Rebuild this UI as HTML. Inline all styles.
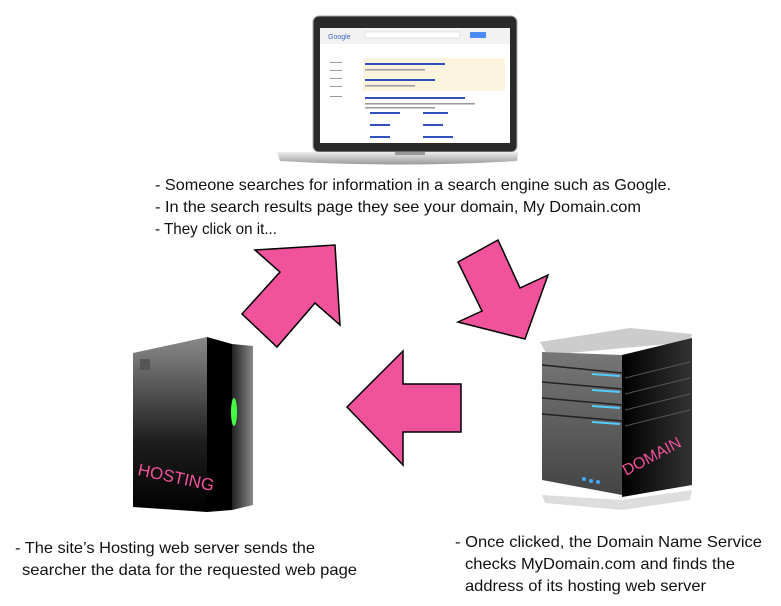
<!DOCTYPE html>
<html><head><meta charset="utf-8"><style>
html,body{margin:0;padding:0;background:#fff;}
svg{display:block}
text{font-family:"Liberation Sans",sans-serif;font-size:16px;fill:#111}
</style></head><body>
<svg width="781" height="606" viewBox="0 0 781 606" xmlns="http://www.w3.org/2000/svg">
<defs>
<linearGradient id="hb" x1="0" y1="0" x2="0" y2="1"><stop offset="0" stop-color="#8a8a8a"/><stop offset="0.6" stop-color="#1e1e1e"/><stop offset="1" stop-color="#000"/></linearGradient>
<linearGradient id="hs" x1="0" y1="0" x2="1" y2="0"><stop offset="0" stop-color="#222"/><stop offset="1" stop-color="#888"/></linearGradient>
<linearGradient id="df" x1="0" y1="0" x2="0" y2="1"><stop offset="0" stop-color="#777"/><stop offset="1" stop-color="#444"/></linearGradient>
<linearGradient id="ds" x1="0" y1="0" x2="1" y2="0"><stop offset="0" stop-color="#000"/><stop offset="1" stop-color="#333"/></linearGradient>
<linearGradient id="lb" x1="0" y1="0" x2="0" y2="1"><stop offset="0" stop-color="#eee"/><stop offset="1" stop-color="#999"/></linearGradient>
</defs>
<!-- laptop -->
<rect x="313" y="16" width="204" height="136" rx="6" fill="#2a2a2a" stroke="#aaa" stroke-width="1"/>
<rect x="320" y="28" width="190" height="115" fill="#fff"/>
<rect x="320" y="28" width="190" height="16" fill="#f2f2f2"/>
<text x="328" y="39" style="font-size:7px;fill:#3b6ad0">Google</text>
<rect x="365" y="32" width="95" height="6" fill="#fff" stroke="#ccc" stroke-width="0.5"/>
<rect x="470" y="32" width="16" height="6" fill="#4a8af4"/>
<rect x="363" y="58" width="142" height="33" fill="#fdf4df"/>
<g fill="#3050c0"><rect x="365" y="63" width="80" height="2"/><rect x="365" y="79" width="70" height="2"/><rect x="365" y="97" width="100" height="2"/><rect x="370" y="112" width="30" height="2"/><rect x="423" y="112" width="25" height="2"/><rect x="370" y="124" width="20" height="2"/><rect x="423" y="124" width="20" height="2"/><rect x="370" y="136" width="20" height="2"/><rect x="423" y="136" width="30" height="2"/></g>
<g fill="#999"><rect x="365" y="69" width="60" height="1.5"/><rect x="365" y="85" width="50" height="1.5"/><rect x="365" y="103" width="110" height="1.5"/><rect x="365" y="107" width="70" height="1.5"/><rect x="330" y="62" width="12" height="1"/><rect x="330" y="70" width="12" height="1"/><rect x="330" y="78" width="12" height="1"/><rect x="330" y="86" width="12" height="1"/><rect x="330" y="96" width="12" height="1"/></g>
<path d="M277 152 H518 L517 161 Q400 168 280 161 Z" fill="url(#lb)"/>
<rect x="395" y="152" width="30" height="3" fill="#999"/>
<!-- arrows -->
<g fill="#f0529c" stroke="#000" stroke-width="1.5" stroke-linejoin="miter">
<polygon points="255,250 335,245 340,325 315,303 277,347 242,314 280,272"/>
<polygon points="458,262 498,240 520,288 548,275 525,339 458,322 482,311"/>
<polygon points="347,407 403,351 403,384 461,384 461,432 403,432 403,465"/>
</g>
<!-- hosting server -->
<polygon points="133,353 207,337 207,512 133,507" fill="url(#hb)"/>
<polygon points="207,337 232,344 232,510 207,512" fill="#000"/>
<polygon points="232,344 253,346 253,505 232,510" fill="url(#hs)"/>
<rect x="140" y="359" width="10" height="11" fill="#555"/>
<ellipse cx="234" cy="412" rx="3" ry="14" fill="#4f4"/>
<text x="137" y="475" transform="rotate(12 137 475)" style="fill:#f0529c;font-size:17px">HOSTING</text>
<!-- domain server -->
<polygon points="540,342 630,328 692,334 690,342 547,355" fill="#ccc"/>
<polygon points="542,352 622,355 622,495 542,480" fill="url(#df)"/>
<polygon points="622,355 692,338 692,485 622,497" fill="url(#ds)"/>
<g stroke="#222" stroke-width="1.5"><line x1="542" y1="365" x2="622" y2="373"/><line x1="542" y1="382" x2="622" y2="389"/><line x1="542" y1="398" x2="622" y2="405"/><line x1="542" y1="414" x2="622" y2="421"/></g>
<g stroke="#5cf" stroke-width="2"><line x1="592" y1="374" x2="620" y2="376"/><line x1="592" y1="390" x2="620" y2="392"/><line x1="592" y1="406" x2="620" y2="408"/><line x1="592" y1="422" x2="620" y2="424"/></g>
<g stroke="#555" stroke-width="1"><line x1="625" y1="378" x2="690" y2="362"/><line x1="625" y1="394" x2="690" y2="378"/><line x1="625" y1="410" x2="690" y2="394"/><line x1="625" y1="426" x2="690" y2="410"/></g>
<g fill="#4af"><circle cx="584" cy="479" r="2"/><circle cx="591" cy="481" r="2"/><circle cx="598" cy="482" r="2"/></g>
<path d="M542 495 L622 500 L692 490 L690 500 L622 510 L545 503 Z" fill="#ddd"/>
<text x="626" y="476" transform="rotate(-28 626 476)" style="fill:#f0529c;font-size:16px">DOMAIN</text>
<!-- text -->
<text x="155" y="190" textLength="516" lengthAdjust="spacingAndGlyphs">- Someone searches for information in a search engine such as Google.</text>
<text x="155" y="212" textLength="486" lengthAdjust="spacingAndGlyphs">- In the search results page they see your domain, My Domain.com</text>
<text x="155" y="234" textLength="122" lengthAdjust="spacingAndGlyphs">- They click on it...</text>
<text x="15" y="553" textLength="300" lengthAdjust="spacingAndGlyphs">- The site’s Hosting web server sends the</text>
<text x="22" y="575" textLength="335" lengthAdjust="spacingAndGlyphs">searcher the data for the requested web page</text>
<text x="455" y="547" textLength="307" lengthAdjust="spacingAndGlyphs">- Once clicked, the Domain Name Service</text>
<text x="465" y="569" textLength="270" lengthAdjust="spacingAndGlyphs">checks MyDomain.com and finds the</text>
<text x="465" y="591" textLength="241" lengthAdjust="spacingAndGlyphs">address of its hosting web server</text>
</svg>
</body></html>
